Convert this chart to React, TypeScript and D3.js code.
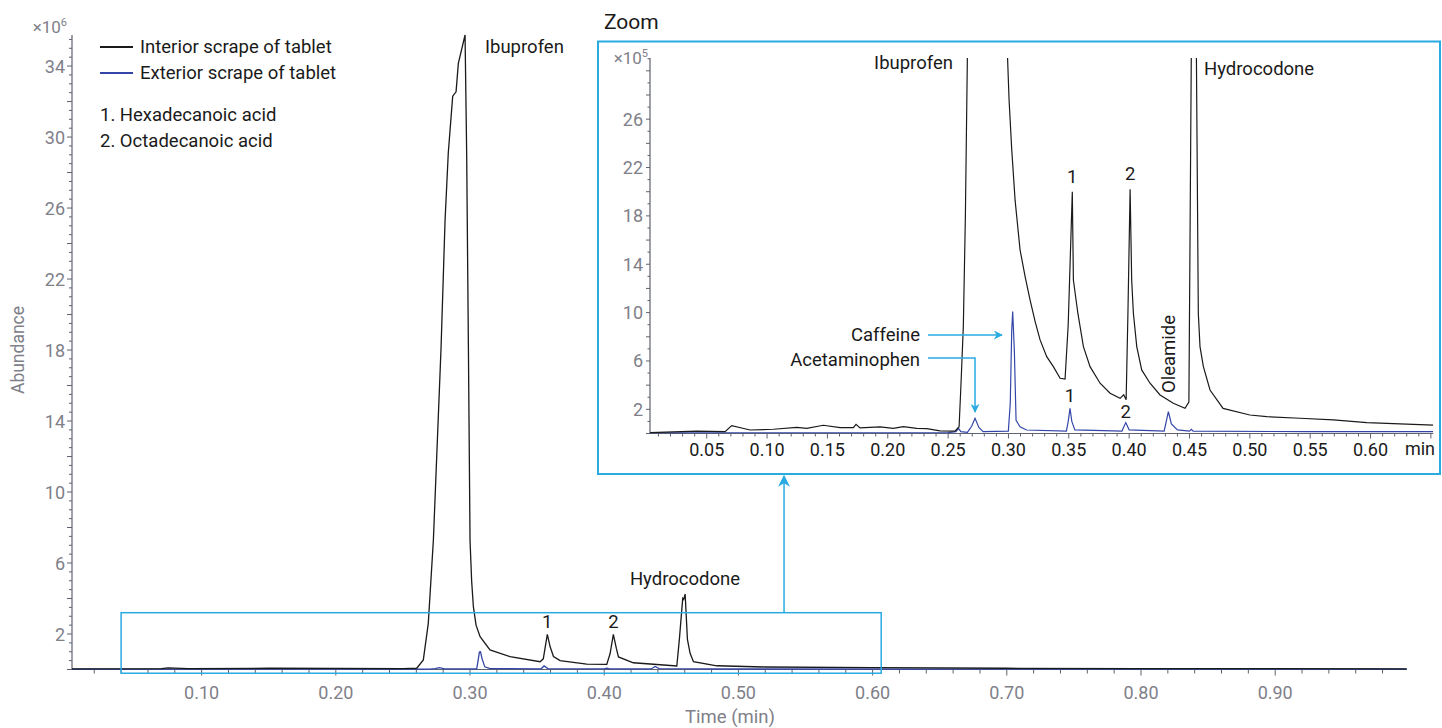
import React from "react";
import * as d3 from "d3";

// ---------- DATA ----------
// Main chromatogram, time (min) vs abundance (x10^6)
const mainInterior: [number, number][] = [
  [0.0034, 0.04], [0.07, 0.05], [0.075, 0.09], [0.09, 0.05], [0.15, 0.07], [0.2, 0.06], [0.25, 0.05],
  [0.2603, 0.07], [0.2652, 0.54], [0.2689, 2.6], [0.2727, 7.3], [0.2784, 18.1], [0.2814, 25.3],
  [0.2838, 29.1], [0.2871, 32.3], [0.2896, 32.55], [0.2913, 34.15], [0.2963, 35.75], [0.2975, 29.1],
  [0.2988, 18.1], [0.3, 7.3], [0.3012, 5.0], [0.3025, 3.54], [0.3045, 2.5], [0.3075, 1.85],
  [0.3149, 1.1], [0.3298, 0.72], [0.3522, 0.44], [0.3546, 0.6], [0.3576, 1.98], [0.3597, 1.28],
  [0.3622, 0.73], [0.3671, 0.5], [0.387, 0.3], [0.4019, 0.29], [0.4044, 0.9], [0.4068, 1.98],
  [0.409, 1.2], [0.4106, 0.71], [0.4217, 0.38], [0.4541, 0.2], [0.456, 1.7], [0.4585, 4.01],
  [0.4592, 3.95], [0.4603, 4.25], [0.462, 1.7], [0.464, 0.91], [0.4665, 0.44], [0.4839, 0.21],
  [0.52, 0.14], [0.6, 0.1], [0.7, 0.07], [0.8, 0.05], [0.998, 0.04],
];
const mainExterior: [number, number][] = [
  [0.0034, 0.02], [0.27, 0.02], [0.274, 0.05], [0.2772, 0.1], [0.281, 0.03], [0.305, 0.03],
  [0.3062, 0.6], [0.307, 0.98], [0.3078, 1.0], [0.309, 0.6], [0.311, 0.15], [0.315, 0.05],
  [0.353, 0.04], [0.3552, 0.2], [0.358, 0.05], [0.4, 0.03], [0.402, 0.07], [0.404, 0.03],
  [0.435, 0.03], [0.4379, 0.17], [0.441, 0.05], [0.47, 0.03], [0.998, 0.02],
];
// Zoom panel, time (min) vs abundance (x10^5)
const zoomInterior: [number, number][] = [
  [0.003, 0.07], [0.0418, 0.2], [0.0652, 0.15], [0.0707, 0.65], [0.0859, 0.29], [0.1052, 0.35],
  [0.1246, 0.51], [0.1329, 0.43], [0.1466, 0.68], [0.1605, 0.48], [0.1715, 0.48], [0.1737, 0.76],
  [0.177, 0.46], [0.1936, 0.55], [0.2046, 0.43], [0.2129, 0.57], [0.224, 0.43], [0.2323, 0.41],
  [0.2433, 0.22], [0.2557, 0.2], [0.2591, 0.56], [0.2607, 4.15], [0.2626, 8.84], [0.2643, 17.9],
  [0.266, 31.5], [0.268, 60], [0.297, 60], [0.2991, 31.5], [0.3005, 27.6], [0.3027, 23.5],
  [0.3055, 19.3], [0.3096, 15.2], [0.3138, 12.98], [0.3179, 11.05], [0.3221, 9.26], [0.3262, 7.74],
  [0.3317, 6.36], [0.3372, 5.53], [0.3428, 4.57], [0.3469, 4.5], [0.3495, 9], [0.3529, 20.0],
  [0.3538, 12.7], [0.3575, 9.95], [0.3621, 7.19], [0.3676, 5.53], [0.3759, 4.16], [0.3842, 3.33],
  [0.3925, 2.91], [0.3955, 3.2], [0.3975, 2.8], [0.399, 10], [0.4008, 20.2], [0.4021, 12.7],
  [0.4035, 9.95], [0.4063, 7.19], [0.4104, 5.26], [0.4173, 4.16], [0.4256, 3.19], [0.4366, 2.5],
  [0.4463, 2.08], [0.4495, 2.6], [0.4515, 31.5], [0.453, 60], [0.455, 60], [0.4557, 31.5],
  [0.4573, 9.95], [0.4587, 7.19], [0.4615, 5.53], [0.467, 3.6], [0.4778, 2.08], [0.5, 1.53],
  [0.514, 1.39], [0.5415, 1.26], [0.5692, 1.12], [0.597, 0.9], [0.6244, 0.79], [0.652, 0.7],
];
const zoomExterior: [number, number][] = [
  [0.003, 0.05], [0.25, 0.08], [0.2565, 0.15], [0.2586, 0.43], [0.2605, 0.15], [0.266, 0.1],
  [0.2695, 0.6], [0.2723, 1.26], [0.2755, 0.5], [0.279, 0.15], [0.2999, 0.2], [0.3015, 2.5],
  [0.3027, 8.5], [0.3035, 10.08], [0.3049, 6.8], [0.3063, 1.1], [0.3096, 0.56], [0.315, 0.29],
  [0.348, 0.2], [0.3495, 1], [0.351, 2.08], [0.3525, 1], [0.355, 0.3], [0.394, 0.2], [0.3972, 0.9],
  [0.4, 0.3], [0.429, 0.2], [0.4325, 1.8], [0.435, 0.8], [0.44, 0.3], [0.45, 0.2], [0.4515, 0.35],
  [0.453, 0.2], [0.55, 0.15], [0.652, 0.15],
];

const mainXTicks = [0.1, 0.2, 0.3, 0.4, 0.5, 0.6, 0.7, 0.8, 0.9];
const mainYTicks = [2, 6, 10, 14, 18, 22, 26, 30, 34];
const zoomXTicks = [0.05, 0.1, 0.15, 0.2, 0.25, 0.3, 0.35, 0.4, 0.45, 0.5, 0.55, 0.6];
const zoomYTicks = [2, 6, 10, 14, 18, 22, 26];
const legendItems = ["Interior scrape of tablet", "Exterior scrape of tablet"];
const compoundList = ["1. Hexadecanoic acid", "2. Octadecanoic acid"];
// zoom region in main coordinates: [t0, t1, v0, v1]
const zoomRegion = [0.04, 0.6064, -0.21, 3.2];

const BLACK = "#1a1a1a";
const BLUE = "#3346a8";
const CYAN = "#29abe2";
const GRAY = "#808089";
const AXIS = "#5f6270";
const FONT = "Roboto, 'Noto Sans', sans-serif";

export default function App() {
  // main scales
  const xM = d3.scaleLinear().domain([0.0034, 0.998]).range([72, 1406.7]);
  const yM = d3.scaleLinear().domain([0, 35.75]).range([669.5, 35]);
  // zoom scales
  const xZ = d3.scaleLinear().domain([0.003, 0.652]).range([650, 1433.3]);
  const yZ = d3.scaleLinear().domain([0, 31.06]).range([433.5, 58]);

  const lineM = d3.line<[number, number]>().x((d) => xM(d[0])).y((d) => yM(d[1]));
  const lineZ = d3.line<[number, number]>().x((d) => xZ(d[0])).y((d) => yZ(d[1]));

  const mainMinorX = d3.range(0.02, 0.999, 0.02);
  const mainMinorY = d3.range(0, 35.6, 0.5);
  const zoomMinorX = d3.range(0.01, 0.651, 0.01);
  const zoomMinorY = d3.range(0, 31.01, 1);

  const fs = 18.5; // annotation / legend
  const ft = 18; // tick labels

  const rx0 = xM(zoomRegion[0]);
  const rx1 = xM(zoomRegion[1]);
  const ry0 = yM(zoomRegion[3]);
  const ry1 = yM(zoomRegion[2]);
  const arrowX = xM(0.534);

  return (
    <div style={{ position: "absolute", left: 0, top: 0 }}>
      <svg width={1442} height={728} style={{ display: "block", fontFamily: FONT }}>
        <defs>
          <marker id="arr" viewBox="0 0 10 10" refX="9" refY="5" markerWidth="9" markerHeight="9" orient="auto" markerUnits="userSpaceOnUse">
            <path d="M0,0 L10,5 L0,10 L3,5 z" fill={CYAN} />
          </marker>
          <marker id="arr2" viewBox="0 0 10 10" refX="9" refY="5" markerWidth="12" markerHeight="12" orient="auto" markerUnits="userSpaceOnUse">
            <path d="M0,0 L10,5 L0,10 L3,5 z" fill={CYAN} />
          </marker>
          <clipPath id="zclip">
            <rect x={650} y={58} width={1433.3 - 650} height={433.5 - 58} />
          </clipPath>
        </defs>
        <rect width={1442} height={728} fill="#fff" />

        {/* ===== MAIN AXES ===== */}
        {mainMinorX.map((t, i) => (
          <line key={"mx" + i} x1={xM(t)} x2={xM(t)} y1={669.5} y2={669.5 + (Math.abs((t * 10) - Math.round(t * 10)) < 1e-6 ? 6 : 4)} stroke={AXIS} strokeWidth={1} />
        ))}
        {mainMinorY.map((v, i) => (
          <line key={"my" + i} x1={72} x2={72 - (v % 2 === 0 ? 5 : 3)} y1={yM(v)} y2={yM(v)} stroke={AXIS} strokeWidth={1} />
        ))}
        <line x1={72} x2={72} y1={35} y2={670} stroke={AXIS} strokeWidth={1.2} />
        <line x1={72} x2={1406.7} y1={669.5} y2={669.5} stroke={AXIS} strokeWidth={1.2} />
        {mainXTicks.map((t) => (
          <text key={"xl" + t} x={xM(t)} y={692} textAnchor="middle" dominantBaseline="central" fill={GRAY} fontSize={ft}>
            {t.toFixed(2)}
          </text>
        ))}
        {mainYTicks.map((v) => (
          <text key={"yl" + v} x={65} y={yM(v)} textAnchor="end" dominantBaseline="central" fill={GRAY} fontSize={ft}>
            {v}
          </text>
        ))}
        <text x={67} y={33} textAnchor="end" fill={GRAY} fontSize={17}>
          ×10<tspan fontSize={11} dy={-7}>6</tspan>
        </text>
        <text x={730} y={717} textAnchor="middle" dominantBaseline="central" fill={GRAY} fontSize={fs}>Time (min)</text>
        <text transform="translate(18,350) rotate(-90)" textAnchor="middle" dominantBaseline="central" fill={GRAY} fontSize={17.5}>Abundance</text>

        {/* main lines */}
        <path d={lineM(mainExterior) || ""} fill="none" stroke={BLUE} strokeWidth={1.3} />
        <path d={lineM(mainInterior) || ""} fill="none" stroke={BLACK} strokeWidth={1.3} />

        {/* main annotations */}
        <text x={485} y={47} dominantBaseline="central" fill={BLACK} fontSize={fs}>Ibuprofen</text>
        <text x={685} y={579} textAnchor="middle" dominantBaseline="central" fill={BLACK} fontSize={fs}>Hydrocodone</text>
        <text x={xM(0.3576)} y={622} textAnchor="middle" dominantBaseline="central" fill={BLACK} fontSize={fs}>1</text>
        <text x={xM(0.4068)} y={622} textAnchor="middle" dominantBaseline="central" fill={BLACK} fontSize={fs}>2</text>

        {/* legend */}
        {legendItems.map((s, i) => (
          <g key={s}>
            <line x1={100} x2={133} y1={47 + i * 26} y2={47 + i * 26} stroke={i === 0 ? BLACK : BLUE} strokeWidth={2} />
            <text x={140} y={47 + i * 26} dominantBaseline="central" fill={BLACK} fontSize={fs}>{s}</text>
          </g>
        ))}
        {compoundList.map((s, i) => (
          <text key={s} x={100} y={115 + i * 26} dominantBaseline="central" fill={BLACK} fontSize={fs}>{s}</text>
        ))}

        {/* zoom region rectangle + arrow */}
        <rect x={rx0} y={ry0} width={rx1 - rx0} height={ry1 - ry0} fill="none" stroke={CYAN} strokeWidth={1.5} />
        <line x1={arrowX} x2={arrowX} y1={ry0} y2={476} stroke={CYAN} strokeWidth={1.5} markerEnd="url(#arr2)" />

        {/* ===== ZOOM PANEL ===== */}
        <text x={604} y={22} dominantBaseline="central" fill={BLACK} fontSize={21}>Zoom</text>
        <rect x={598} y={41.5} width={1440 - 598} height={474 - 41.5} fill="#fff" stroke={CYAN} strokeWidth={2} />

        {zoomMinorX.map((t, i) => (
          <line key={"zx" + i} x1={xZ(t)} x2={xZ(t)} y1={433.5} y2={433.5 + (Math.abs(t * 20 - Math.round(t * 20)) < 1e-6 ? 5 : 3)} stroke={AXIS} strokeWidth={1} />
        ))}
        {zoomMinorY.map((v, i) => (
          <line key={"zy" + i} x1={650} x2={650 - (v % 2 === 0 ? 4 : 2.5)} y1={yZ(v)} y2={yZ(v)} stroke={AXIS} strokeWidth={1} />
        ))}
        <line x1={650} x2={650} y1={58} y2={434} stroke={AXIS} strokeWidth={1.2} />
        <line x1={650} x2={1433.3} y1={433.5} y2={433.5} stroke={AXIS} strokeWidth={1.2} />
        {zoomXTicks.map((t) => (
          <text key={"zxl" + t} x={xZ(t)} y={449} textAnchor="middle" dominantBaseline="central" fill={BLACK} fontSize={ft}>
            {t.toFixed(2)}
          </text>
        ))}
        <text x={1420} y={448} textAnchor="middle" dominantBaseline="central" fill={BLACK} fontSize={ft}>min</text>
        {zoomYTicks.map((v) => (
          <text key={"zyl" + v} x={643} y={yZ(v)} textAnchor="end" dominantBaseline="central" fill={GRAY} fontSize={ft}>
            {v}
          </text>
        ))}
        <text x={648} y={64} textAnchor="end" fill={GRAY} fontSize={17}>
          ×10<tspan fontSize={11} dy={-7}>5</tspan>
        </text>

        <g clipPath="url(#zclip)">
          <path d={lineZ(zoomExterior) || ""} fill="none" stroke={BLUE} strokeWidth={1.2} />
          <path d={lineZ(zoomInterior) || ""} fill="none" stroke={BLACK} strokeWidth={1.2} />
        </g>

        {/* zoom annotations */}
        <text x={953} y={63} textAnchor="end" dominantBaseline="central" fill={BLACK} fontSize={fs}>Ibuprofen</text>
        <text x={1204} y={69} dominantBaseline="central" fill={BLACK} fontSize={fs}>Hydrocodone</text>
        <text x={xZ(0.3529)} y={177} textAnchor="middle" dominantBaseline="central" fill={BLACK} fontSize={fs}>1</text>
        <text x={xZ(0.4008)} y={174} textAnchor="middle" dominantBaseline="central" fill={BLACK} fontSize={fs}>2</text>
        <text x={xZ(0.351)} y={396} textAnchor="middle" dominantBaseline="central" fill={BLACK} fontSize={fs}>1</text>
        <text x={xZ(0.3972)} y={412} textAnchor="middle" dominantBaseline="central" fill={BLACK} fontSize={fs}>2</text>
        <text transform={`translate(${xZ(0.4325) + 1},354) rotate(-90)`} textAnchor="middle" dominantBaseline="central" fill={BLACK} fontSize={fs}>Oleamide</text>

        <text x={920} y={335} textAnchor="end" dominantBaseline="central" fill={BLACK} fontSize={fs}>Caffeine</text>
        <line x1={928} x2={1002} y1={335} y2={335} stroke={CYAN} strokeWidth={1.5} markerEnd="url(#arr)" />
        <text x={920} y={360} textAnchor="end" dominantBaseline="central" fill={BLACK} fontSize={fs}>Acetaminophen</text>
        <polyline points={`928,358 ${xZ(0.2723)},358 ${xZ(0.2723)},412`} fill="none" stroke={CYAN} strokeWidth={1.5} markerEnd="url(#arr)" />
      </svg>
    </div>
  );
}
